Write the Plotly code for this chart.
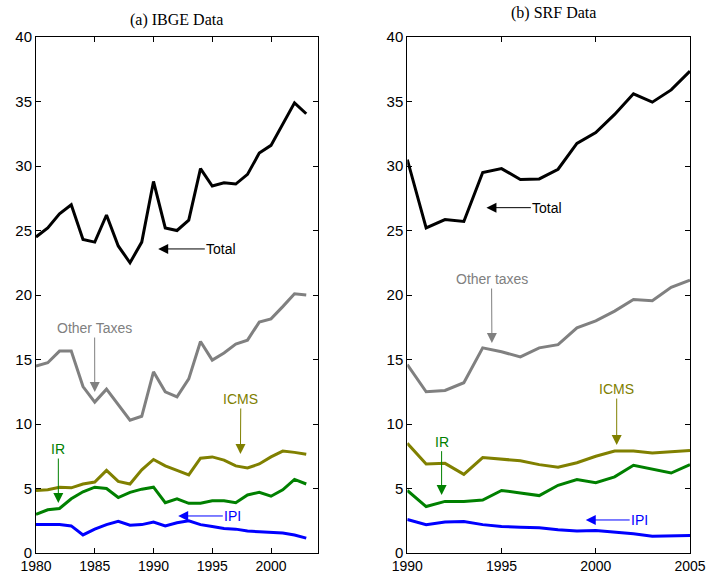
import plotly.graph_objects as go

# ---- Panel (a): IBGE data, 1980-2003 ----
ibge_years = list(range(1980, 2004))
ibge_total = [24.5, 25.2, 26.3, 27.0, 24.3, 24.1, 26.2, 23.8, 22.5, 24.1, 28.8, 25.2,
              25.0, 25.8, 29.8, 28.45, 28.7, 28.6, 29.35, 31.0, 31.6, 33.3, 34.9, 34.05]
ibge_other = [14.5, 14.75, 15.65, 15.65, 12.9, 11.7, 12.7, 11.5, 10.3, 10.6, 14.05, 12.5,
              12.1, 13.5, 16.4, 14.95, 15.5, 16.2, 16.5, 17.9, 18.15, 19.1, 20.1, 20.0]
ibge_icms = [4.85, 4.9, 5.1, 5.05, 5.35, 5.5, 6.4, 5.55, 5.35, 6.45, 7.25, 6.75,
             6.4, 6.05, 7.35, 7.45, 7.2, 6.75, 6.6, 6.9, 7.45, 7.9, 7.8, 7.65]
ibge_ir = [3.0, 3.35, 3.45, 4.2, 4.75, 5.1, 5.0, 4.3, 4.7, 4.95, 5.1, 3.9,
           4.2, 3.85, 3.85, 4.05, 4.05, 3.9, 4.5, 4.7, 4.4, 4.9, 5.7, 5.35]
ibge_ipi = [2.2, 2.2, 2.2, 2.1, 1.4, 1.85, 2.2, 2.45, 2.15, 2.2, 2.4, 2.1,
            2.35, 2.5, 2.2, 2.05, 1.9, 1.85, 1.7, 1.65, 1.6, 1.55, 1.4, 1.15]

# ---- Panel (b): SRF data, 1990-2005 ----
srf_years = list(range(1990, 2006))
srf_total = [30.5, 25.2, 25.85, 25.7, 29.5, 29.8, 28.95, 29.0, 29.75, 31.75, 32.6, 34.0,
             35.6, 34.95, 35.9, 37.35]
srf_other = [14.6, 12.5, 12.6, 13.2, 15.9, 15.6, 15.2, 15.9, 16.15, 17.45, 18.0, 18.75,
             19.65, 19.55, 20.6, 21.15]
srf_icms = [8.5, 6.9, 6.95, 6.1, 7.4, 7.3, 7.15, 6.85, 6.65, 7.0, 7.5, 7.9,
            7.9, 7.75, 7.85, 7.95]
srf_ir = [4.85, 3.6, 4.0, 4.0, 4.1, 4.85, 4.65, 4.45, 5.25, 5.7, 5.45, 5.9,
          6.8, 6.5, 6.2, 6.85]
srf_ipi = [2.6, 2.2, 2.4, 2.45, 2.2, 2.05, 2.0, 1.95, 1.8, 1.7, 1.75, 1.65,
           1.5, 1.3, 1.3, 1.35]

panel_titles = ["(a) IBGE Data", "(b) SRF Data"]
y_ticks = [0, 5, 10, 15, 20, 25, 30, 35, 40]

colors = {
    "total": "#000000",
    "other": "#808080",
    "icms": "#808000",
    "ir": "#008000",
    "ipi": "#0000ff",
}

# label, text position (x, y), arrow tip (x, y), colour key
ibge_labels = [
    ("Total", (1995.77, 23.57), (1990.4, 23.57), "total"),
    ("Other Taxes", (1984.99, 17.44), (1985.0, 12.48), "other"),
    ("ICMS", (1997.43, 11.94), (1997.4, 7.67), "icms"),
    ("IR", (1981.9, 8.06), (1981.9, 3.88), "ir"),
    ("IPI", (1996.75, 2.87), (1992.1, 2.87), "ipi"),
]
srf_labels = [
    ("Total", (1997.43, 26.77), (1994.2, 26.77), "total"),
    ("Other taxes", (1994.47, 21.24), (1994.49, 16.28), "other"),
    ("ICMS", (2001.11, 12.71), (2001.11, 8.37), "icms"),
    ("IR", (1991.82, 8.63), (1991.82, 4.5), "ir"),
    ("IPI", (2002.33, 2.56), (1999.47, 2.56), "ipi"),
]

fig = go.Figure()

panels = [
    ("x", "y", ibge_years, [("total", ibge_total), ("other", ibge_other), ("icms", ibge_icms),
                            ("ir", ibge_ir), ("ipi", ibge_ipi)], ibge_labels),
    ("x2", "y2", srf_years, [("total", srf_total), ("other", srf_other), ("icms", srf_icms),
                             ("ir", srf_ir), ("ipi", srf_ipi)], srf_labels),
]

annotations = []
for xa, ya, years, series, labels in panels:
    for key, vals in series:
        fig.add_trace(go.Scatter(
            x=years, y=vals, mode="lines", xaxis=xa, yaxis=ya,
            line=dict(color=colors[key], width=3), showlegend=False,
        ))
    for text, (tx, ty), (px, py), key in labels:
        annotations.append(dict(
            text=text, x=px, y=py, ax=tx, ay=ty,
            xref=xa, yref=ya, axref=xa, ayref=ya,
            showarrow=True, arrowhead=2, arrowsize=2, arrowwidth=1,
            arrowcolor=colors[key],
            font=dict(family="Liberation Sans, Arial, sans-serif", size=14, color=colors[key]),
        ))

# panel titles
annotations.append(dict(text=panel_titles[0], x=176 / 706, y=1 - 20.5 / 575,
                        xref="paper", yref="paper", showarrow=False,
                        xanchor="center", yanchor="middle",
                        font=dict(family="Liberation Serif, Times New Roman, serif",
                                  size=16, color="#000000")))
annotations.append(dict(text=panel_titles[1], x=553 / 706, y=1 - 13.5 / 575,
                        xref="paper", yref="paper", showarrow=False,
                        xanchor="center", yanchor="middle",
                        font=dict(family="Liberation Serif, Times New Roman, serif",
                                  size=16, color="#000000")))

axis_common = dict(
    showline=True, linecolor="#000000", linewidth=1, mirror="ticks",
    ticks="inside", ticklen=5, tickwidth=1, tickcolor="#000000",
    showgrid=False, zeroline=False, automargin=False,
)
x_font = dict(family="Liberation Sans, Arial, sans-serif", size=14, color="#000000")
y_font = dict(family="Liberation Sans, Arial, sans-serif", size=15, color="#000000")

y0 = 22 / 575
y1 = 1 - 37 / 575

fig.update_layout(
    width=706, height=575,
    margin=dict(l=0, r=0, t=0, b=0),
    paper_bgcolor="#ffffff", plot_bgcolor="#ffffff",
    xaxis=dict(domain=[36 / 706, 318 / 706], range=[1980, 2004],
               tickvals=[1980, 1985, 1990, 1995, 2000], anchor="y",
               tickfont=x_font, **axis_common),
    yaxis=dict(domain=[y0, y1], range=[0, 40], tickvals=y_ticks, anchor="x",
               tickfont=y_font, **axis_common),
    xaxis2=dict(domain=[407.3 / 706, 690 / 706], range=[1990, 2005],
                tickvals=[1990, 1995, 2000, 2005], anchor="y2",
                tickfont=x_font, **axis_common),
    yaxis2=dict(domain=[y0, y1], range=[0, 40], tickvals=y_ticks, anchor="x2",
                tickfont=y_font, **axis_common),
    annotations=annotations,
    showlegend=False,
)

fig.write_html("out.html")
